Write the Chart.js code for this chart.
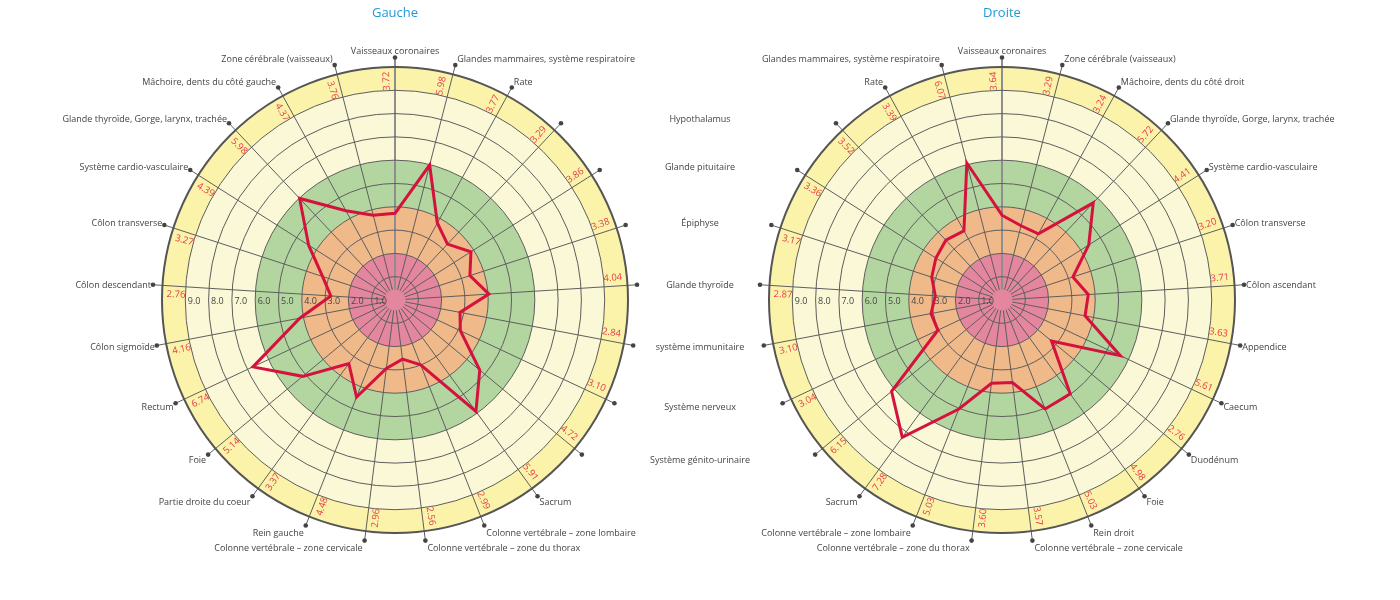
<!DOCTYPE html>
<html>
<head>
<meta charset="utf-8">
<script src="https://cdn.jsdelivr.net/npm/chart.js@4.4.1/dist/chart.umd.min.js"></script>
<style>
    body { margin: 0; background: #fff; }
    #wrap { position: relative; width: 1400px; height: 600px; }
    #wrap canvas { position: absolute; left: 0; top: 0; }
</style>
</head>
<body>
<div id="wrap">
    <canvas id="leftChart" width="1400" height="600"></canvas>
    <canvas id="rightChart" width="1400" height="600"></canvas>
</div>
<script>
// Left side (Gauche) - clockwise from the top
const labelsLeft = [
    'Vaisseaux coronaires', 'Glandes mammaires, système respiratoire', 'Rate',
    'Hypothalamus', 'Glande pituitaire', 'Épiphyse', 'Glande thyroïde',
    'système immunitaire', 'Système nerveux', 'Système génito-urinaire', 'Sacrum',
    'Colonne vertébrale – zone lombaire', 'Colonne vertébrale – zone du thorax',
    'Colonne vertébrale – zone cervicale', 'Rein gauche', 'Partie droite du coeur',
    'Foie', 'Rectum', 'Côlon sigmoïde', 'Côlon descendant', 'Côlon transverse',
    'Système cardio-vasculaire', 'Glande thyroïde, Gorge, larynx, trachée',
    'Mâchoire, dents du côté gauche', 'Zone cérébrale (vaisseaux)'
];
const valuesLeft = [3.72, 5.98, 3.77, 3.29, 3.86, 3.38, 4.04, 2.84, 3.10, 4.72, 5.91, 2.99, 2.56,
    2.96, 4.48, 3.37, 5.14, 6.74, 4.16, 2.76, 3.27, 4.39, 5.98, 4.37, 3.76];

// Right side (Droite) - clockwise from the top
const labelsRight = [
    'Vaisseaux coronaires', 'Zone cérébrale (vaisseaux)', 'Mâchoire, dents du côté droit',
    'Glande thyroïde, Gorge, larynx, trachée', 'Système cardio-vasculaire', 'Côlon transverse',
    'Côlon ascendant', 'Appendice', 'Caecum', 'Duodénum', 'Foie', 'Rein droit',
    'Colonne vertébrale – zone cervicale', 'Colonne vertébrale – zone du thorax',
    'Colonne vertébrale – zone lombaire', 'Sacrum', 'Système génito-urinaire',
    'Système nerveux', 'système immunitaire', 'Glande thyroïde', 'Épiphyse',
    'Glande pituitaire', 'Hypothalamus', 'Rate', 'Glandes mammaires, système respiratoire'
];
const valuesRight = [3.64, 3.29, 3.24, 5.72, 4.41, 3.20, 3.71, 3.63, 5.61, 2.76, 4.98, 5.03, 3.57,
    3.60, 5.03, 7.28, 6.15, 3.04, 3.10, 2.87, 3.17, 3.36, 3.52, 3.39, 6.07];

// Score zones (outer limit of each coloured ring) and radial tick labels
const zoneLimits = [10, 9, 6, 4, 2];
const tickValues = [1, 2, 3, 4, 5, 6, 7, 8, 9];

const zoneColors = ['#fbf3a9', '#faf8d6', '#b3d6a0', '#f0b989', '#e5869f'];
const FONT = '"Open Sans", "DejaVu Sans", sans-serif';

// Draws the rings, spokes and all the texts around the radar
const decorPlugin = {
    id: 'decor',
    beforeDraw(chart) {
        const s = chart.scales.r;
        const ctx = chart.ctx;
        ctx.save();
        zoneLimits.forEach((v, i) => {
            ctx.beginPath();
            ctx.arc(s.xCenter, s.yCenter, s.getDistanceFromCenterForValue(v), 0, Math.PI * 2);
            ctx.fillStyle = zoneColors[i];
            ctx.fill();
        });
        const inner = s.getDistanceFromCenterForValue(0.45);
        const outer = s.drawingArea + 9.5;
        for (let i = chart.data.labels.length - 1; i >= 0; i--) {
            const a = s.getPointPosition(i, inner);
            const b = s.getPointPosition(i, outer);
            ctx.beginPath();
            ctx.moveTo(a.x, a.y);
            ctx.lineTo(b.x, b.y);
            ctx.lineWidth = i === 0 ? 2 : 1;
            ctx.strokeStyle = i === 0 ? '#8e8e8e' : '#5e5e5e';
            ctx.stroke();
        }
        ctx.restore();
    },
    afterDraw(chart, args, opts) {
        const s = chart.scales.r;
        const ctx = chart.ctx;
        const labels = chart.data.labels;
        const values = chart.data.datasets[0].data;
        ctx.save();

        // radial tick labels, along the left horizontal
        ctx.font = '9px ' + FONT;
        ctx.fillStyle = '#444';
        ctx.textAlign = 'left';
        ctx.textBaseline = 'middle';
        tickValues.forEach(v => {
            ctx.fillText(v.toFixed(1), s.xCenter - s.getDistanceFromCenterForValue(v) + 2.5, s.yCenter + 1);
        });

        // values written in the outer ring
        ctx.font = '9.5px ' + FONT;
        ctx.fillStyle = '#e8394a';
        ctx.textAlign = 'center';
        const shift = -2.2 * Math.PI / 180;
        values.forEach((v, i) => {
            const p = s.getPointPosition(i, s.getDistanceFromCenterForValue(9.4), shift);
            let rot = p.angle;
            if (rot > Math.PI / 2) rot -= Math.PI;
            ctx.save();
            ctx.translate(p.x, p.y);
            ctx.rotate(rot);
            ctx.fillText(v.toFixed(2), 0, 0);
            ctx.restore();
        });

        // category labels with their dots
        ctx.font = '9px ' + FONT;
        const r = s.drawingArea + 9.5;
        labels.forEach((lab, i) => {
            const p = s.getPointPosition(i, r);
            ctx.beginPath();
            ctx.arc(p.x, p.y, 2.3, 0, Math.PI * 2);
            ctx.fillStyle = '#444';
            ctx.fill();
            if (opts.hidden.includes(i)) return;
            const th = s.getIndexAngle(i);
            const sn = Math.sin(th);
            let x = p.x;
            if (opts.middle.includes(i)) {
                ctx.textAlign = 'center';
                x = opts.middleX;
            } else if (Math.abs(sn) < 0.05) {
                ctx.textAlign = 'center';
            } else if (sn > 0) {
                ctx.textAlign = 'left';
                x += 2;
            } else {
                ctx.textAlign = 'right';
                x -= 2;
            }
            ctx.fillText(lab, x, p.y - Math.cos(th) * 7 + 1);
        });

        // title
        ctx.font = '13px ' + FONT;
        ctx.fillStyle = '#1f9ad6';
        ctx.textAlign = 'center';
        ctx.fillText(opts.title, s.xCenter, 13);
        ctx.restore();
    }
};

function makeRadar(id, labels, values, title, padLeft, padRight, hidden, middle) {
    return new Chart(document.getElementById(id), {
        type: 'radar',
        data: {
            labels: labels,
            datasets: [{
                data: values,
                borderColor: '#d5123e',
                borderWidth: 3,
                pointRadius: 0,
                fill: false
            }]
        },
        options: {
            responsive: false,
            animation: false,
            layout: { padding: { left: padLeft, right: padRight, top: 67, bottom: 67 } },
            plugins: {
                legend: { display: false },
                tooltip: { enabled: false },
                decor: { title: title, hidden: hidden, middle: middle, middleX: 700 }
            },
            scales: {
                r: {
                    min: 0,
                    max: 10,
                    startAngle: 0,
                    ticks: { display: false, stepSize: 1 },
                    pointLabels: { display: false },
                    angleLines: { display: false },
                    grid: {
                        circular: true,
                        color: ctx => ctx.tick && ctx.tick.value === 10 ? '#555' : '#5e5e5e',
                        lineWidth: ctx => ctx.tick && ctx.tick.value === 10 ? 2 : 1
                    }
                }
            }
        },
        plugins: [decorPlugin]
    });
}

makeRadar('leftChart', labelsLeft, valuesLeft, 'Gauche', 162, 772, [3, 4, 5, 6, 7, 8, 9], []);
makeRadar('rightChart', labelsRight, valuesRight, 'Droite', 769, 165, [], [16, 17, 18, 19, 20, 21, 22]);
</script>
</body>
</html>
